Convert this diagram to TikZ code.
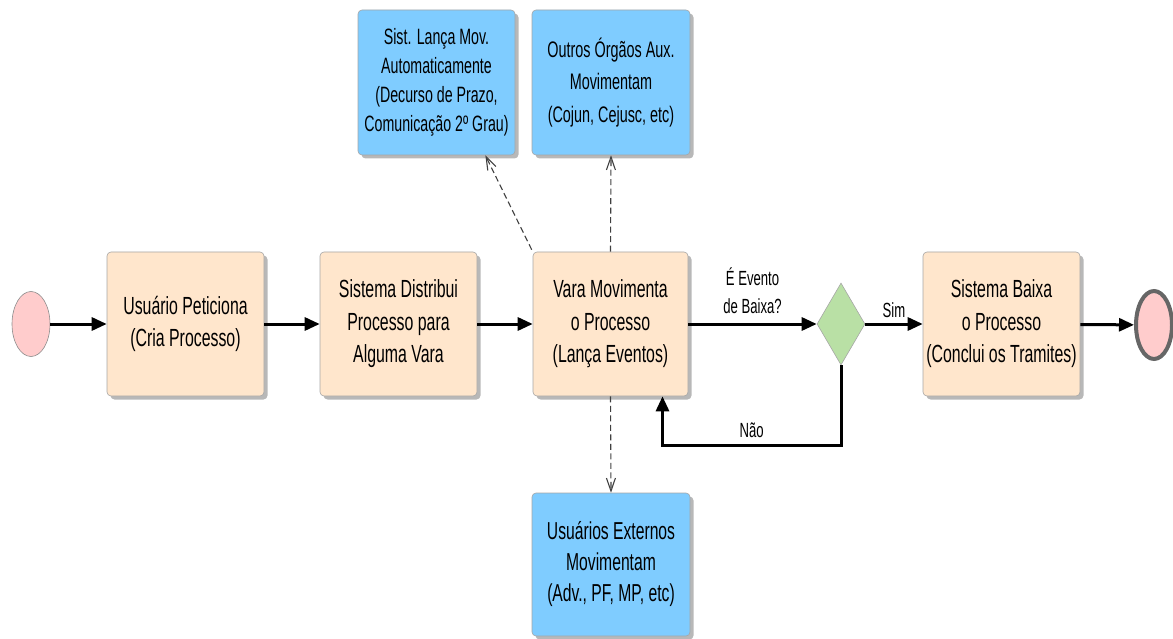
\documentclass[tikz,border=0pt]{standalone}
\usepackage{fontspec}
\setmainfont{Liberation Sans}[FakeStretch=0.64]
\usetikzlibrary{shapes.geometric,arrows.meta,shadows,calc}
\definecolor{peach}{HTML}{FFE6CC}
\definecolor{skyb}{HTML}{7FCCFF}
\definecolor{leaf}{HTML}{B9E0A5}
\definecolor{rose}{HTML}{FFCCCC}
\definecolor{edgegray}{HTML}{A6A6A6}
\tikzset{
  boxbase/.style={rectangle, rounded corners=4pt, draw=edgegray, line width=0.6pt,
    align=center, inner sep=2pt, font=\fontsize{24.8}{32.5}\selectfont,
    drop shadow={shadow xshift=3.5pt, shadow yshift=-3.5pt, fill=black, opacity=0.28}},
  peachbox/.style={boxbase, fill=peach, minimum width=157pt, minimum height=144pt},
  bluebox/.style={boxbase, fill=skyb, minimum width=158pt, minimum height=145pt},
  arr/.style={line width=3pt, -{Triangle[length=15pt,width=13pt]}},
  darr/.style={line width=1.1pt, draw=black!75, dash pattern=on 6pt off 3.5pt,
    -{Straight Barb[length=13pt,width=9pt,line width=1.1pt]}},
  lbl/.style={font=\fontsize{20.5}{28}\selectfont, align=center, inner sep=0pt},
}
\begin{document}
\begin{tikzpicture}[x=1pt,y=-1pt]
\useasboundingbox (0,0) rectangle (1173,639);
% start / end
\node[ellipse, draw=black!45, line width=0.6pt, fill=rose, minimum width=38pt, minimum height=65pt, inner sep=0pt] (start) at (31,324) {};
\node[ellipse, draw=black!60, line width=4pt, fill=rose, minimum width=36pt, minimum height=68pt, inner sep=0pt] (end) at (1154,325) {};
% main boxes
\node[peachbox] (b1) at (185.5,324) {Usuário Peticiona\\(Cria Processo)};
\node[peachbox] (b2) at (398.5,324) {Sistema Distribui\\Processo para\\Alguma Vara};
\node[peachbox, minimum width=155pt] (b3) at (610.5,324) {Vara Movimenta\\o Processo\\(Lança Eventos)};
\node[diamond, draw=edgegray, line width=0.6pt, fill=leaf, minimum width=48pt, minimum height=82pt, inner sep=0pt, shape aspect=0.585] (dia) at (841,324) {};
\node[peachbox] (b5) at (1001.5,324) {Sistema Baixa\\o Processo\\(Conclui os Tramites)};
% blue boxes
\node[bluebox, minimum width=157pt, font=\fontsize{22.2}{29}\selectfont] (t1) at (436.5,82.5) {Sist. Lança Mov.\\Automaticamente\\(Decurso de Prazo,\\Comunicação 2º Grau)};
\node[bluebox, font=\fontsize{22.5}{32.5}\selectfont] (t2) at (611,82.5) {Outros Órgãos Aux.\\Movimentam\\(Cojun, Cejusc, etc)};
\node[bluebox, minimum height=143pt, font=\fontsize{24.5}{31}\selectfont] (bb) at (611,564.5) {Usuários Externos\\Movimentam\\(Adv., PF, MP, etc)};
% solid flow
\draw[arr] (start) -- (b1);
\draw[arr] (b1) -- (b2);
\draw[arr] (b2) -- (b3);
\draw[arr] (b3) -- node[lbl, above=9pt] {É Evento\\de Baixa?} (dia);
\draw[arr] (dia) -- node[lbl, above=5pt] {Sim} (b5);
\draw[arr] (b5) -- (end);
\draw[arr] (dia.south) -- ++(0,80) -| node[lbl, pos=0.25, above=6pt] {Não} ($(b3.south)+(52,0)$);
% dashed
\draw[darr] ($(b3.north west)+(-1,-2)$) -- ($(t1.south)!0.62!(t1.south east)$);
\draw[darr] (b3.north) -- (t2.south);
\draw[darr] (b3.south) -- (bb.north);
\end{tikzpicture}
\end{document}
